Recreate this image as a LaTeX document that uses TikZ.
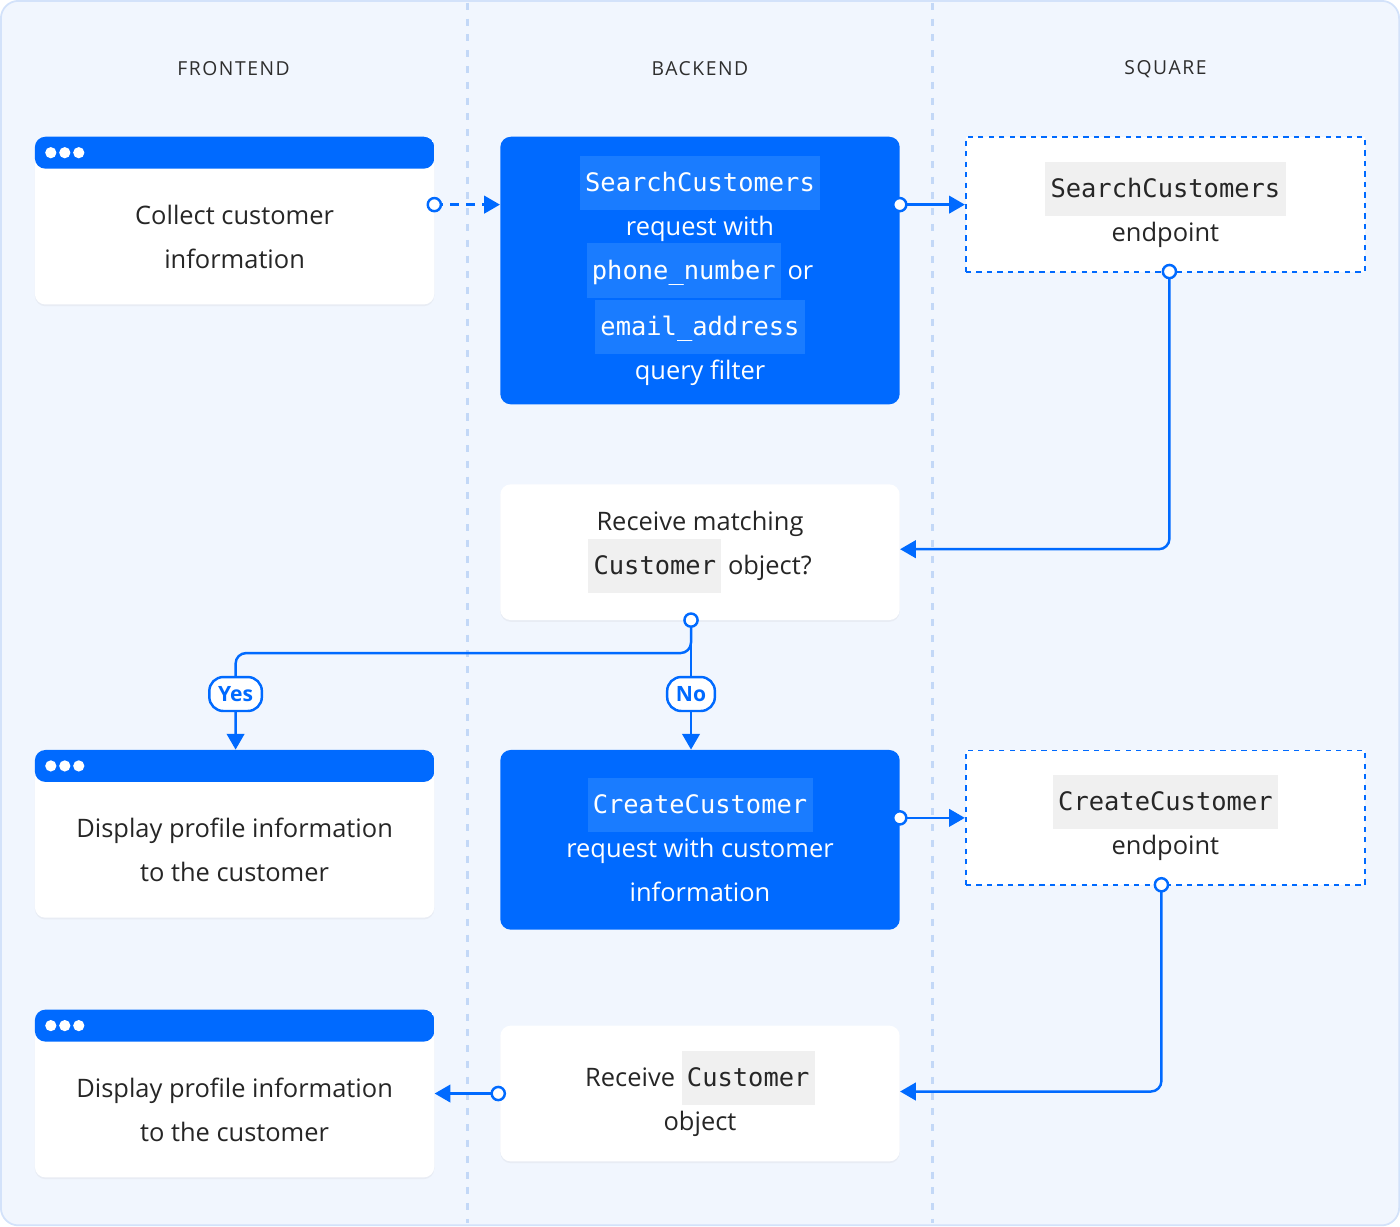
\documentclass[tikz,border=0pt]{standalone}
\usepackage{fontspec}
\setmainfont{Open Sans}
\setmonofont{DejaVu Sans Mono}
\usetikzlibrary{arrows.meta,positioning,shadows}
\definecolor{brand}{HTML}{006AFF}
\definecolor{bgpage}{HTML}{F1F6FE}
\definecolor{bgedge}{HTML}{D3E2FA}
\definecolor{laneline}{HTML}{C3D8F7}
\definecolor{chipblue}{HTML}{1A7CFF}
\definecolor{chipgrey}{HTML}{F0F0F0}
\definecolor{headtext}{HTML}{2E2E2E}
\newcommand{\bluechip}[1]{{\fboxsep=3pt\colorbox{chipblue}{\strut\ttfamily #1}}}
\newcommand{\greychip}[1]{{\fboxsep=3pt\colorbox{chipgrey}{\strut\ttfamily #1}}}
\tikzset{
    boxtext/.style = {align=center, font=\fontsize{14.5}{25}\selectfont, text=black!85},
    whitebox/.style = {boxtext, rectangle, rounded corners=6pt, fill=white, minimum width=8cm,
        drop shadow={opacity=0.08, shadow xshift=0pt, shadow yshift=-1pt}},
    bluebox/.style = {boxtext, rectangle, rounded corners=6pt, fill=brand, text=white, minimum width=8cm},
    apibox/.style = {boxtext, rectangle, draw=brand, dashed, line width=1pt, fill=white, minimum width=8cm},
    winbar/.style = {path picture={\fill[brand] (path picture bounding box.north west) rectangle ([yshift=-0.64cm]path picture bounding box.north east);}},
    lanehead/.style = {font=\fontsize{11}{13}\selectfont\addfontfeature{LetterSpace=8}, text=headtext},
    flow/.style = {draw=brand, line width=1.4pt, rounded corners=6pt, -{Triangle[length=9pt,width=10pt]}},
    startdot/.style = {circle, draw=brand, line width=1.4pt, fill=white, inner sep=0pt, minimum size=7.5pt},
    choice/.style = {rectangle, rounded corners=8pt, draw=brand, line width=1.4pt, fill=white, text=brand,
        font=\fontsize{12}{14}\selectfont\bfseries, inner xsep=5pt, minimum height=0.68cm}
}
\begin{document}
\begin{tikzpicture}[x=0.02cm, y=-0.02cm]
    % page and lanes
    \fill[bgpage, draw=bgedge, line width=1pt, rounded corners=10pt] (0,0) rectangle (1400,1226);
    \useasboundingbox (0,0) rectangle (1400,1226);
    \foreach \lx in {467, 933}
        \draw[laneline, line width=1.4pt, dash pattern=on 4pt off 5pt] (\lx,2) -- (\lx,1224);
    \node[lanehead] (hfront) at (233,68) {FRONTEND};
    \node[lanehead] (hback) at (700,68) {BACKEND};
    \node[lanehead] (hsquare) at (1166,68) {SQUARE};

    % frontend windows
    \node[whitebox, winbar, minimum height=3.36cm] (collect) at (234,220) {};
    \node[boxtext] (collecttxt) at (234,236) {Collect customer\\information};
    \node[whitebox, winbar, minimum height=3.36cm] (display) at (234,834) {};
    \node[boxtext] (displaytxt) at (234,850) {Display profile information\\to the customer};
    \node[whitebox, winbar, minimum height=3.36cm] (displaytwo) at (234,1094) {};
    \node[boxtext] (displaytwotxt) at (234,1110) {Display profile information\\to the customer};
    \foreach \wy in {152, 766, 1026}
        \foreach \dx in {50, 64, 78}
            \fill[white] (\dx,\wy) circle (3.2pt);

    % backend
    \node[bluebox, minimum height=5.36cm] (search) at (700,270)
        {\bluechip{SearchCustomers}\\request with\\\bluechip{phone\_number} or\\\bluechip{email\_address}\\query filter};
    \node[whitebox, minimum height=2.72cm] (match) at (700,552)
        {Receive matching\\\greychip{Customer} object?};
    \node[bluebox, minimum height=3.6cm] (create) at (700,840)
        {\bluechip{CreateCustomer}\\request with customer\\information};
    \node[whitebox, minimum height=2.72cm] (receive) at (700,1094)
        {Receive \greychip{Customer}\\object};

    % square
    \node[apibox, minimum height=2.7cm] (searchapi) at (1166,204)
        {\greychip{SearchCustomers}\\endpoint};
    \node[apibox, minimum height=2.7cm] (createapi) at (1166,818)
        {\greychip{CreateCustomer}\\endpoint};

    % connectors
    \draw[flow, dash pattern=on 5pt off 4pt] (collect.east |- 0,204) -- (search.west |- 0,204);
    \draw[flow] (search.east |- 0,204) -- (searchapi.west);
    \draw[flow] (1170,271) -- (1170,549) -- (match.east |- 0,549);
    \coordinate (split) at (691,653);
    \draw[flow] (691,620) -- (split) -- (235,653) -- (display.north -| 235,0);
    \draw[flow] (691,620) -- (create.north -| 691,0);
    \draw[flow] (create.east |- 0,818) -- (createapi.west);
    \draw[flow] (1162,885) -- (1162,1092) -- (receive.east |- 0,1092);
    \draw[flow] (498,1094) -- (displaytwo.east |- 0,1094);
    \node[choice] (yes) at (235,694) {Yes};
    \node[choice] (no) at (691,694) {No};

    % open start dots
    \foreach \sx/\sy in {434/204, 900/204, 1170/271, 691/620, 900/818, 1162/885, 498/1094}
        \node[startdot] at (\sx,\sy) {};
\end{tikzpicture}
\end{document}
